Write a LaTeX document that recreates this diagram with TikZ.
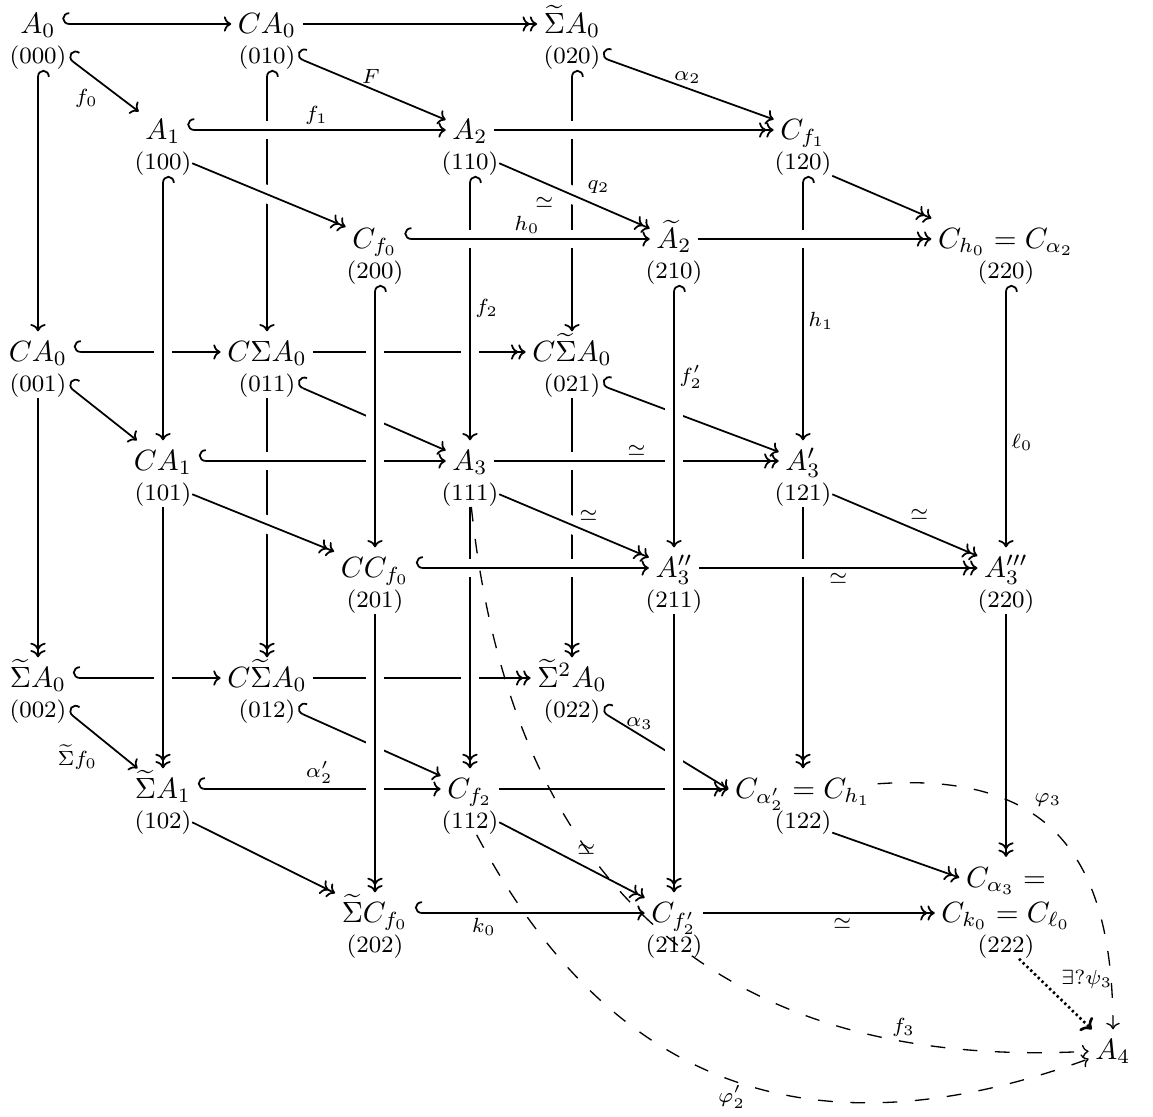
\documentclass[tikz,border=0pt]{standalone}
\usepackage{amsmath}
\usetikzlibrary{arrows.meta}

\begin{document}
\begin{tikzpicture}[x=0.012cm, y=-0.012cm, >={To[scale=0.85]}, line width=0.6pt,
    obj/.style={inner sep=2pt, text height=8pt, text depth=1.5pt},
    idx/.style={font=\footnotesize, inner sep=0pt, text height=6pt, text depth=2pt},
    lbl/.style={font=\scriptsize, inner sep=1.5pt},
    mono/.style={arrows={Hooks[right, length=2.4pt, width=8pt]->}},
    epi/.style={->>},
    over/.style={preaction={draw=white, line width=6pt, -, shorten <=6pt, shorten >=6pt}},
    curve/.style={->, line width=0.45pt, dash pattern=on 5pt off 6pt}]
    \useasboundingbox (0,0) rectangle (1153,1117);

    % back face (i = 0)
    \node[obj, label={[idx, name=i000]below:(000)}] (m000) at (38,24) {$A_0$};
    \node[obj, label={[idx, name=i010]below:(010)}] (m010) at (267,24) {$CA_0$};
    \node[obj, label={[idx, name=i020]below:(020)}] (m020) at (572,24) {$\widetilde{\Sigma}A_0$};
    \node[obj, label={[idx, name=i001]below:(001)}] (m001) at (38,352) {$CA_0$};
    \node[obj, label={[idx, name=i011]below:(011)}] (m011) at (267,352) {$C\Sigma A_0$};
    \node[obj, label={[idx, name=i021]below:(021)}] (m021) at (572,352) {$C\widetilde{\Sigma}A_0$};
    \node[obj, label={[idx, name=i002]below:(002)}] (m002) at (38,678) {$\widetilde{\Sigma}A_0$};
    \node[obj, label={[idx, name=i012]below:(012)}] (m012) at (267,678) {$C\widetilde{\Sigma}A_0$};
    \node[obj, label={[idx, name=i022]below:(022)}] (m022) at (572,678) {$\widetilde{\Sigma}^2A_0$};

    % middle face (i = 1)
    \node[obj, label={[idx, name=i100]below:(100)}] (m100) at (163,130) {$A_1$};
    \node[obj, label={[idx, name=i110]below:(110)}] (m110) at (470,130) {$A_2$};
    \node[obj, label={[idx, name=i120]below:(120)}] (m120) at (803,130) {$C_{f_1}$};
    \node[obj, label={[idx, name=i101]below:(101)}] (m101) at (163,461) {$CA_1$};
    \node[obj, label={[idx, name=i111]below:(111)}] (m111) at (470,461) {$A_3$};
    \node[obj, label={[idx, name=i121]below:(121)}] (m121) at (803,461) {$A'_3$};
    \node[obj, label={[idx, name=i102]below:(102)}] (m102) at (163,789) {$\widetilde{\Sigma}A_1$};
    \node[obj, label={[idx, name=i112]below:(112)}] (m112) at (470,789) {$C_{f_2}$};
    \node[obj, label={[idx, name=i122]below:(122)}] (m122) at (803,789) {$C_{\alpha'_2}=C_{h_1}$};

    % front face (i = 2)
    \node[obj, label={[idx, name=i200]below:(200)}] (m200) at (375,239) {$C_{f_0}$};
    \node[obj, label={[idx, name=i210]below:(210)}] (m210) at (674,239) {$\widetilde{A}_2$};
    \node[obj, label={[idx, name=i220]below:(220)}] (m220) at (1006,239) {$C_{h_0}=C_{\alpha_2}$};
    \node[obj, label={[idx, name=i201]below:(201)}] (m201) at (375,568) {$CC_{f_0}$};
    \node[obj, label={[idx, name=i211]below:(211)}] (m211) at (674,568) {$A''_3$};
    \node[obj, label={[idx, name=i221]below:(220)}] (m221) at (1006,568) {$A'''_3$};
    \node[obj, label={[idx, name=i202]below:(202)}] (m202) at (375,913) {$\widetilde{\Sigma}C_{f_0}$};
    \node[obj, label={[idx, name=i212]below:(212)}] (m212) at (674,913) {$C_{f'_2}$};
    \node[obj, label={[idx, name=i222]below:(222)}, label={[obj, name=t222, yshift=-2pt]above:$C_{\alpha_3}=$}] (m222) at (1006,913) {$C_{k_0}=C_{\ell_0}$};

    \node[obj] (a4) at (1113,1050) {$A_4$};

    % back face arrows
    \draw[mono] (m000) -- (m010);
    \draw[epi] (m010) -- (m020);
    \draw[mono] (m001) -- (m011);
    \draw[epi] (m011) -- (m021);
    \draw[mono] (m002) -- (m012);
    \draw[epi] (m012) -- (m022);
    \draw[mono] (i000) -- (m001);
    \draw[epi] (i001) -- (m002);
    \draw[mono] (i010) -- (m011);
    \draw[epi] (i011) -- (m012);
    \draw[mono] (i020) -- (m021);
    \draw[epi] (i021) -- (m022);

    % back to middle
    \draw[mono, over] (i000.east) -- node[lbl, below left] {$f_0$} (m100);
    \draw[mono, over] (i010.east) -- node[lbl, above] {$F$} (m110);
    \draw[mono, over] (i020.east) -- node[lbl, above] {$\alpha_2$} (m120);
    \draw[mono, over] (i001.east) -- (m101);
    \draw[mono, over] (i011.east) -- (m111);
    \draw[mono, over] (i021.east) -- (m121);
    \draw[mono, over] (i002.east) -- node[lbl, below left] {$\widetilde{\Sigma}f_0$} (m102);
    \draw[mono, over] (i012.east) -- (m112);
    \draw[mono, over] (i022.east) -- node[lbl, above, pos=0.3] {$\alpha_3$} (m122.west);

    % middle face arrows
    \draw[mono, over] (m100) -- node[lbl, above] {$f_1$} (m110);
    \draw[epi, over] (m110) -- (m120);
    \draw[mono, over] (m101) -- (m111);
    \draw[epi, over] (m111) -- node[lbl, above] {$\simeq$} (m121);
    \draw[mono, over] (m102) -- node[lbl, above] {$\alpha'_2$} (m112);
    \draw[epi, over] (m112) -- (m122);
    \draw[mono, over] (i100) -- (m101);
    \draw[epi, over] (i101) -- (m102);
    \draw[mono, over] (i110) -- node[lbl, right] {$f_2$} (m111);
    \draw[epi, over] (i111) -- (m112);
    \draw[mono, over] (i120) -- node[lbl, right, pos=0.55] {$h_1$} (m121);
    \draw[epi, over] (i121) -- (m122);

    % middle to front
    \draw[epi, over] (i100.east) -- (m200);
    \draw[epi, over] (i110.east) -- node[lbl, above right, pos=0.55] {$q_2$} node[lbl, below=3pt, pos=0.3] {$\simeq$} (m210);
    \draw[epi, over] (i120) -- (m220.north west);
    \draw[epi, over] (i101.east) -- (m201);
    \draw[epi, over] (i111.east) -- node[lbl, above right] {$\simeq$} (m211);
    \draw[epi, over] (i121.east) -- node[lbl, above right] {$\simeq$} (m221);
    \draw[epi, over] (i102.east) -- (m202);
    \draw[epi, over] (i112.east) -- node[lbl, above right] {$\simeq$} (m212);
    \draw[epi, over] (i122) -- (t222.west);

    % front face arrows
    \draw[mono, over] (m200) -- node[lbl, above] {$h_0$} (m210);
    \draw[epi, over] (m210) -- (m220);
    \draw[mono, over] (m201) -- (m211);
    \draw[epi, over] (m211) -- node[lbl, below] {$\simeq$} (m221);
    \draw[mono, over] (m202) -- node[lbl, below, pos=0.3] {$k_0$} (m212);
    \draw[epi, over] (m212) -- node[lbl, below, pos=0.6] {$\simeq$} (m222);
    \draw[mono, over] (i200) -- (m201);
    \draw[epi, over] (i201) -- (m202);
    \draw[mono, over] (i210) -- node[lbl, right, pos=0.35] {$f'_2$} (m211);
    \draw[epi, over] (i211) -- (m212);
    \draw[mono, over] (i220) -- node[lbl, right, pos=0.6] {$\ell_0$} (m221);
    \draw[epi, over] (i221) -- (t222);

    % maps to A_4
    \draw[curve] (i111) to[out=-84, in=183, looseness=1.16] node[lbl, above, pos=0.82] {$f_3$} (a4);
    \draw[curve] (i112) to[out=-62, in=200, looseness=1.14] node[lbl, below, pos=0.5] {$\varphi'_2$} (a4);
    \draw[curve] (m122) to[out=4, in=90, looseness=1.3] node[lbl, above right, pos=0.38] {$\varphi_3$} (a4);
    \draw[->, line width=0.9pt, dash pattern=on 0.8pt off 1pt] (i222) -- node[lbl, above right] {$\exists?\psi_3$} (a4);
\end{tikzpicture}
\end{document}
